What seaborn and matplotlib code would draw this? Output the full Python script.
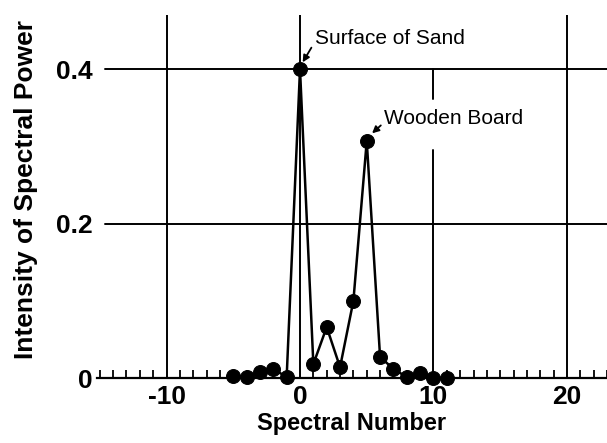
import matplotlib
matplotlib.use("Agg")
import matplotlib.pyplot as plt
import seaborn as sns
import pandas as pd

# ---- data ----
spectral_number = [-5, -4, -3, -2, -1, 0, 1, 2, 3, 4, 5, 6, 7, 8, 9, 10, 11]
intensity = [0.003, 0.001, 0.008, 0.012, 0.001, 0.400, 0.018, 0.066, 0.014,
             0.100, 0.307, 0.027, 0.012, 0.001, 0.007, 0.000, 0.000]
x_ticks = [-10, 0, 10, 20]
x_tick_labels = ["-10", "0", "10", "20"]
y_ticks = [0, 0.2, 0.4]
y_tick_labels = ["0", "0.2", "0.4"]
annotations = ["Surface of Sand", "Wooden Board"]

df = pd.DataFrame({"Spectral Number": spectral_number,
                   "Intensity": intensity})

sns.set_style("white")
plt.rcParams["font.family"] = ["Liberation Sans", "DejaVu Sans"]
plt.rcParams["text.color"] = "black"
plt.rcParams["axes.labelcolor"] = "black"
plt.rcParams["xtick.color"] = "black"
plt.rcParams["ytick.color"] = "black"

fig = plt.figure(figsize=(6.07, 4.43), dpi=100)
ax = fig.add_axes([0.16, 0.1467, 0.84, 0.819])

xmin, xmax = -15.2, 23.0
ymin, ymax = 0.0, 0.47
ax.set_xlim(xmin, xmax)
ax.set_ylim(ymin, ymax)

# grid-like lines
lw_grid = 1.4
for xv in [-10, 0, 20]:
    ax.axvline(xv, color="black", lw=lw_grid, zorder=1)
ax.plot([10, 10], [0, 0.295], color="black", lw=lw_grid, zorder=1)
ax.plot([10, 10], [0.362, 0.4], color="black", lw=lw_grid, zorder=1)
for yv in [0.2, 0.4]:
    ax.axhline(yv, xmin=0.015, xmax=1, color="black", lw=lw_grid, zorder=1)

sns.lineplot(data=df, x="Spectral Number", y="Intensity", ax=ax,
             color="black", lw=1.8, marker="o", markersize=10,
             markeredgecolor="black", markerfacecolor="black",
             clip_on=False, zorder=5)

# spines
for s in ["top", "right", "left"]:
    ax.spines[s].set_visible(False)
ax.spines["bottom"].set_linewidth(1.6)
ax.spines["bottom"].set_color("black")

# ticks
ax.set_xticks(x_ticks)
ax.set_xticklabels(x_tick_labels, fontsize=19, fontweight="bold")
ax.set_xticks(range(-15, 24), minor=True)
ax.tick_params(axis="x", which="both", bottom=True)
ax.tick_params(axis="x", which="major", length=0, pad=5)
ax.tick_params(axis="x", which="minor", direction="in", length=6,
               width=1.3, color="black")
ax.set_yticks(y_ticks)
ax.set_yticklabels(y_tick_labels, fontsize=19, fontweight="bold")
ax.tick_params(axis="y", which="major", left=True, length=0, pad=3)

ax.set_xlabel("Spectral Number", fontsize=17, fontweight="bold", labelpad=2)
ax.set_ylabel("Intensity of Spectral Power", fontsize=19, fontweight="bold")
ax.yaxis.set_label_coords(-0.115, 0.52)

# annotations
ax.annotate(annotations[0], xy=(0.2, 0.409), xytext=(1.1, 0.44),
            fontsize=15, va="center", ha="left",
            arrowprops=dict(arrowstyle="-|>", color="black", lw=1.3,
                            mutation_scale=10, shrinkA=0, shrinkB=0,
                            relpos=(0, 0.3)))
ax.annotate(annotations[1], xy=(5.4, 0.317), xytext=(6.3, 0.336),
            fontsize=15, va="center", ha="left",
            arrowprops=dict(arrowstyle="-|>", color="black", lw=1.3,
                            mutation_scale=10, shrinkA=0, shrinkB=0,
                            relpos=(0, 0.3)))

fig.savefig("out.png", dpi=100)
